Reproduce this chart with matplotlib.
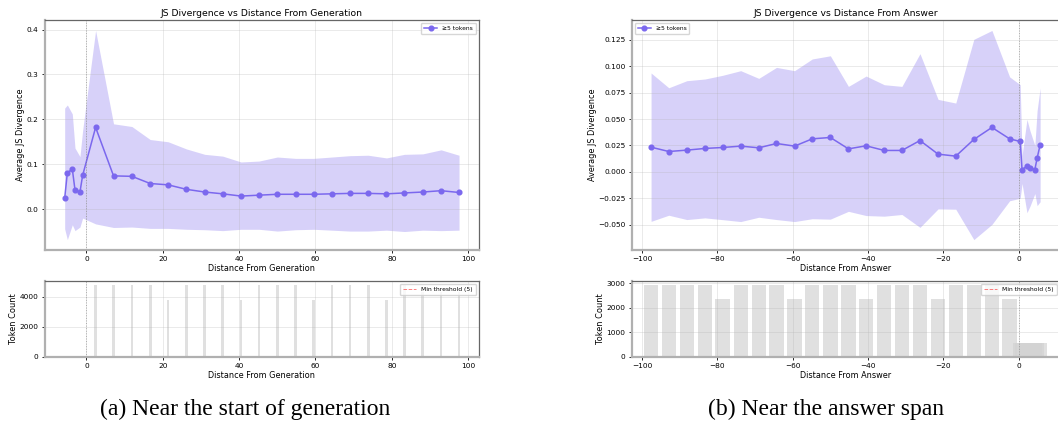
import numpy as np
import matplotlib
matplotlib.use("Agg")
from matplotlib import pyplot as plt

# panel (a): distance from start of generation
gen_x = [-5.7, -5.0, -3.7, -3.0, -1.7, -1.0, 2.4, 7.1, 11.9, 16.7, 21.4, 26.2, 31.0, 35.7,
         40.5, 45.2, 50.0, 54.8, 59.5, 64.3, 69.0, 73.8, 78.6, 83.3, 88.1, 92.9, 97.6]
gen_mean = [0.024, 0.081, 0.089, 0.043, 0.038, 0.075, 0.182, 0.074, 0.073, 0.057, 0.054, 0.044,
            0.038, 0.034, 0.029, 0.031, 0.033, 0.033, 0.033, 0.034, 0.035, 0.035, 0.034, 0.036,
            0.038, 0.041, 0.037]
gen_hi = [0.225, 0.232, 0.212, 0.136, 0.117, 0.175, 0.398, 0.190, 0.184, 0.155, 0.150, 0.134,
          0.122, 0.118, 0.105, 0.107, 0.116, 0.113, 0.113, 0.116, 0.119, 0.120, 0.114, 0.122,
          0.123, 0.132, 0.120]
gen_lo = [-0.044, -0.068, -0.035, -0.048, -0.040, -0.020, -0.033, -0.041, -0.040, -0.043, -0.043,
          -0.045, -0.046, -0.048, -0.045, -0.045, -0.049, -0.046, -0.045, -0.047, -0.049, -0.049,
          -0.047, -0.050, -0.047, -0.048, -0.047]
gen_count = [40, 40, 40, 40, 40, 40, 4800, 4800, 4800, 4800, 3820, 4800, 4800, 4800, 3820, 4800,
             4800, 4800, 3820, 4800, 4800, 4800, 3820, 4800, 4300, 4300, 4300]

# panel (b): distance from answer span
ans_x = [-97.6, -92.9, -88.1, -83.3, -78.6, -73.8, -69.0, -64.3, -59.5, -54.8, -50.0, -45.2,
         -40.5, -35.7, -31.0, -26.2, -21.4, -16.7, -11.9, -7.1, -2.4, 0.4, 0.9, 2.2, 3.0, 4.3,
         4.9, 5.7]
ans_mean = [0.0234, 0.0193, 0.0206, 0.0222, 0.0231, 0.0244, 0.0228, 0.0269, 0.0244, 0.0313,
            0.0326, 0.0218, 0.0247, 0.0203, 0.0203, 0.0297, 0.0168, 0.0149, 0.0307, 0.0421,
            0.0313, 0.0288, 0.0022, 0.0055, 0.0032, 0.0022, 0.0130, 0.0256]
ans_hi = [0.0937, 0.0797, 0.0864, 0.0880, 0.0915, 0.0959, 0.0886, 0.0990, 0.0959, 0.1070,
          0.1100, 0.0810, 0.0908, 0.0826, 0.0810, 0.1120, 0.0687, 0.0652, 0.1256, 0.1340,
          0.0900, 0.0826, 0.0154, 0.0497, 0.0390, 0.0250, 0.0580, 0.0795]
ans_lo = [-0.0469, -0.0411, -0.0452, -0.0436, -0.0453, -0.0471, -0.0430, -0.0452, -0.0471,
          -0.0444, -0.0448, -0.0374, -0.0414, -0.0420, -0.0404, -0.0526, -0.0351, -0.0354,
          -0.0642, -0.0498, -0.0274, -0.0250, -0.0110, -0.0387, -0.0326, -0.0206, -0.0320,
          -0.0283]
ans_count = [2940, 2940, 2940, 2940, 2350, 2940, 2940, 2940, 2350, 2940, 2940, 2940, 2350, 2940,
             2940, 2940, 2350, 2940, 2940, 2940, 2350, 580, 580, 580, 580, 580, 580, 580]

LINE = "#7B68EE"


def style_axes(ax):
    # left/bottom spines light and thick, top/right dark and thin
    for side in ["left", "bottom"]:
        ax.spines[side].set_color("#b0b0b0")
        ax.spines[side].set_linewidth(1.6)
    for side in ["top", "right"]:
        ax.spines[side].set_color("#666666")
        ax.spines[side].set_linewidth(0.9)
    ax.grid(True, alpha=0.3, linewidth=0.6)
    ax.tick_params(labelsize=5.3, length=2.5, width=0.6, pad=2)


def draw_panel(ax_top, ax_bot, x, mean, lo, hi, count, bar_w, xlabel, title, leg_loc):
    ax_top.fill_between(x, lo, hi, color=LINE, alpha=0.3, linewidth=0)
    ax_top.plot(x, mean, color=LINE, marker="o", markersize=3.4, linewidth=1.1, label="≥5 tokens")
    ax_top.axvline(0, color="gray", linestyle=":", linewidth=0.7, alpha=0.6)
    ax_top.set_title(title, fontsize=6.7, pad=3)
    ax_top.set_xlabel(xlabel, fontsize=5.9, labelpad=1)
    ax_top.set_ylabel("Average JS Divergence", fontsize=5.9, labelpad=1)
    ax_top.legend(loc=leg_loc, fontsize=4.3, handlelength=2.2, borderpad=0.5)
    style_axes(ax_top)

    ax_bot.bar(x, count, width=bar_w, color="lightgray", alpha=0.7)
    ax_bot.axhline(5, color="red", linestyle="--", linewidth=0.7, alpha=0.5, label="Min threshold (5)")
    ax_bot.axvline(0, color="gray", linestyle=":", linewidth=0.7, alpha=0.6)
    ax_bot.set_xlim(ax_top.get_xlim())
    ax_bot.set_xlabel(xlabel, fontsize=5.9, labelpad=1)
    ax_bot.set_ylabel("Token Count", fontsize=5.9, labelpad=1)
    ax_bot.legend(loc="upper right", fontsize=4.3, handlelength=2.2, borderpad=0.5)
    style_axes(ax_bot)


fig = plt.figure(figsize=(10.58, 4.26), dpi=100)

ax_a = fig.add_axes([0.0425, 0.413, 0.410, 0.540])
ax_a2 = fig.add_axes([0.0425, 0.162, 0.410, 0.178])
draw_panel(ax_a, ax_a2, gen_x, gen_mean, gen_lo, gen_hi, gen_count, 0.7,
           "Distance From Generation", "JS Divergence vs Distance From Generation", "upper right")
ax_a2.set_yticks([0, 2000, 4000])

ax_b = fig.add_axes([0.597, 0.413, 0.4045, 0.540])
ax_b2 = fig.add_axes([0.597, 0.162, 0.4045, 0.178])
draw_panel(ax_b, ax_b2, ans_x, ans_mean, ans_lo, ans_hi, ans_count, 3.8,
           "Distance From Answer", "JS Divergence vs Distance From Answer", "upper left")
ax_b2.set_yticks([0, 1000, 2000, 3000])

fig.text(0.232, 0.038, "(a) Near the start of generation", ha="center", va="center",
         fontsize=17, family="Liberation Serif")
fig.text(0.781, 0.038, "(b) Near the answer span", ha="center", va="center",
         fontsize=17, family="Liberation Serif")

fig.savefig("out.png", dpi=100)
